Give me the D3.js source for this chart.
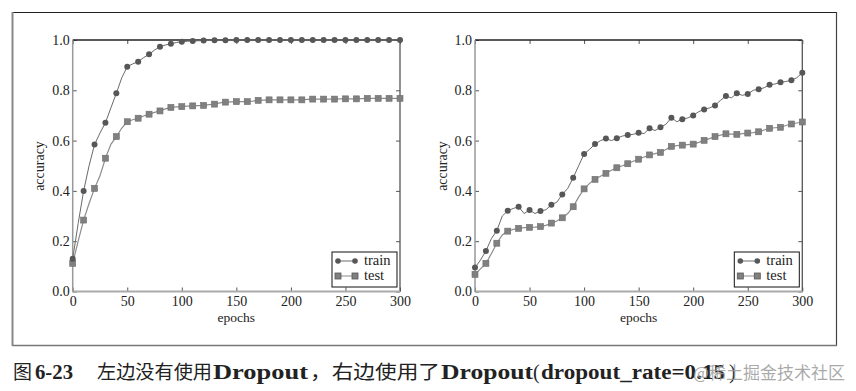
<!DOCTYPE html>
<html>
<head>
<meta charset="utf-8">
<script src="https://cdn.jsdelivr.net/npm/d3@7"></script>
<style>
  body { margin: 0; background: #fff; }
  svg { display: block; }
</style>
</head>
<body>
<svg id="mysvg" width="856" height="391"></svg>
<script>
// epochs, one value every 5 epochs (markers every 10)
let epochs = d3.range(0, 301, 5);

let leftTrain = [0.13, 0.27, 0.40, 0.50, 0.584, 0.63, 0.671, 0.73, 0.788, 0.85,
  0.894, 0.905, 0.914, 0.93, 0.943, 0.96, 0.973, 0.98, 0.985, 0.99,
  0.993, 0.995, 0.996, 0.997, 0.998, 0.999, 0.999, 0.999, 0.999, 0.999,
  1.0, 1.0, 1.0, 1.0, 1.0, 1.0, 1.0, 1.0, 1.0, 1.0,
  1.0, 1.0, 1.0, 1.0, 1.0, 1.0, 1.0, 1.0, 1.0, 1.0,
  1.0, 1.0, 1.0, 1.0, 1.0, 1.0, 1.0, 1.0, 1.0, 1.0, 1.0];
let leftTest = [0.112, 0.20, 0.284, 0.35, 0.41, 0.46, 0.53, 0.585, 0.616, 0.65,
  0.675, 0.683, 0.689, 0.698, 0.705, 0.712, 0.718, 0.726, 0.732, 0.734,
  0.735, 0.737, 0.738, 0.739, 0.740, 0.743, 0.745, 0.75, 0.753, 0.754,
  0.755, 0.755, 0.755, 0.757, 0.760, 0.761, 0.762, 0.762, 0.762, 0.762,
  0.762, 0.762, 0.762, 0.764, 0.765, 0.765, 0.765, 0.765, 0.765, 0.766,
  0.766, 0.766, 0.766, 0.767, 0.768, 0.768, 0.768, 0.768, 0.768, 0.768, 0.768];
let rightTrain = [0.095, 0.125, 0.161, 0.21, 0.242, 0.30, 0.321, 0.33, 0.337, 0.31,
  0.324, 0.31, 0.32, 0.325, 0.345, 0.355, 0.386, 0.41, 0.452, 0.50,
  0.547, 0.565, 0.586, 0.60, 0.608, 0.60, 0.609, 0.618, 0.622, 0.625,
  0.631, 0.628, 0.649, 0.64, 0.653, 0.665, 0.691, 0.675, 0.685, 0.69,
  0.70, 0.715, 0.724, 0.73, 0.74, 0.76, 0.777, 0.77, 0.788, 0.78,
  0.785, 0.80, 0.804, 0.81, 0.822, 0.825, 0.832, 0.835, 0.84, 0.85, 0.87];
let rightTest = [0.068, 0.09, 0.112, 0.15, 0.192, 0.225, 0.24, 0.247, 0.251, 0.254,
  0.255, 0.256, 0.258, 0.263, 0.272, 0.28, 0.293, 0.31, 0.337, 0.375,
  0.408, 0.43, 0.446, 0.458, 0.47, 0.482, 0.492, 0.50, 0.508, 0.518,
  0.526, 0.535, 0.543, 0.548, 0.553, 0.565, 0.577, 0.58, 0.582, 0.584,
  0.586, 0.593, 0.601, 0.608, 0.616, 0.622, 0.627, 0.626, 0.625, 0.628,
  0.63, 0.632, 0.635, 0.642, 0.649, 0.651, 0.653, 0.66, 0.666, 0.67, 0.674];

let xTicks = [0, 50, 100, 150, 200, 250, 300];
let yTicks = [0.0, 0.2, 0.4, 0.6, 0.8, 1.0];
let legendNames = ["train", "test"];

let serif = "'Liberation Serif', 'DejaVu Serif', serif";
let cjk = "'Noto Sans CJK SC', sans-serif";

var svg = d3.select("#mysvg");

// outer frame
svg.append("line").attr("x1", 12).attr("y1", 12.5).attr("x2", 837).attr("y2", 12.5)
  .attr("stroke", "#222").attr("stroke-width", 1.2);
svg.append("line").attr("x1", 836.5).attr("y1", 12).attr("x2", 836.5).attr("y2", 346)
  .attr("stroke", "#444").attr("stroke-width", 1.2);
svg.append("line").attr("x1", 12).attr("y1", 345.5).attr("x2", 837).attr("y2", 345.5)
  .attr("stroke", "#777").attr("stroke-width", 1.5);
svg.append("line").attr("x1", 12.5).attr("y1", 12).attr("x2", 12.5).attr("y2", 346)
  .attr("stroke", "#888").attr("stroke-width", 2);

function makeRows(vals) {
  return epochs.map(function(e, i) { return { e: e, v: vals[i] }; });
}

function drawPanel(x0, x1, trainVals, testVals) {
  var x = d3.scaleLinear().domain([0, 300]).range([x0, x1]);
  var y = d3.scaleLinear().domain([0, 1]).range([291.5, 40]);
  var g = svg.append("g");

  // ticks inward on four sides
  var left = g.append("g").attr("transform", "translate(" + x0 + ",0)")
    .call(d3.axisLeft(y).tickValues(yTicks).tickFormat(d3.format(".1f"))
      .tickSizeInner(-4).tickSizeOuter(0).tickPadding(3));
  var bottom = g.append("g").attr("transform", "translate(0,291.5)")
    .call(d3.axisBottom(x).tickValues(xTicks).tickFormat(d3.format("d"))
      .tickSizeInner(-4).tickSizeOuter(0).tickPadding(5));
  var right = g.append("g").attr("transform", "translate(" + x1 + ",0)")
    .call(d3.axisRight(y).tickValues(yTicks).tickFormat("").tickSizeInner(-4).tickSizeOuter(0));
  var top = g.append("g").attr("transform", "translate(0,40)")
    .call(d3.axisTop(x).tickValues(xTicks).tickFormat("").tickSizeInner(-4).tickSizeOuter(0));
  [left, bottom, right, top].forEach(function(a) {
    a.select(".domain").remove();
    a.selectAll(".tick line").attr("stroke", "#555");
    a.selectAll("text").attr("font-family", serif).attr("font-size", "14px").attr("fill", "#222");
  });

  // spines
  g.append("line").attr("x1", x0).attr("x2", x1).attr("y1", 40).attr("y2", 40)
    .attr("stroke", "#222").attr("stroke-width", 1.3);
  g.append("line").attr("x1", x1).attr("x2", x1).attr("y1", 40).attr("y2", 291.5)
    .attr("stroke", "#555").attr("stroke-width", 1.3);
  g.append("line").attr("x1", x0).attr("x2", x1).attr("y1", 291.5).attr("y2", 291.5)
    .attr("stroke", "#aaa").attr("stroke-width", 2);
  g.append("line").attr("x1", x0).attr("x2", x0).attr("y1", 40).attr("y2", 292)
    .attr("stroke", "#999").attr("stroke-width", 1.5);

  var line = d3.line().x(function(d) { return x(d.e); }).y(function(d) { return y(d.v); });
  var train = makeRows(trainVals), test = makeRows(testVals);

  g.append("path").datum(test).attr("fill", "none").attr("stroke", "#8c8c8c")
    .attr("stroke-width", 1.2).attr("d", line);
  g.append("path").datum(train).attr("fill", "none").attr("stroke", "#6a6a6a")
    .attr("stroke-width", 1).attr("d", line);

  g.selectAll(".sq").data(test.filter(function(d) { return d.e % 10 === 0; }))
    .enter().append("rect")
    .attr("x", function(d) { return x(d.e) - 3; })
    .attr("y", function(d) { return y(d.v) - 3; })
    .attr("width", 6).attr("height", 6)
    .attr("fill", "#808080").attr("stroke", "#6e6e6e").attr("stroke-width", 0.6);
  g.selectAll(".dot").data(train.filter(function(d) { return d.e % 10 === 0; }))
    .enter().append("circle")
    .attr("cx", function(d) { return x(d.e); })
    .attr("cy", function(d) { return y(d.v); })
    .attr("r", 3).attr("fill", "#575757");

  // axis labels
  g.append("text").attr("x", (x0 + x1) / 2).attr("y", 322).attr("text-anchor", "middle")
    .attr("font-family", serif).attr("font-size", "13.5px").attr("fill", "#222").text("epochs");
  g.append("text").attr("transform", "translate(" + (x0 - 28.5) + "," + 166 + ") rotate(-90)")
    .attr("text-anchor", "middle")
    .attr("font-family", serif).attr("font-size", "14px").attr("fill", "#222").text("accuracy");

  // legend
  var lx = x1 - 68, ly = 252;
  var lg = g.append("g").attr("transform", "translate(" + lx + "," + ly + ")");
  lg.append("rect").attr("width", 65).attr("height", 35).attr("fill", "#fff")
    .attr("stroke", "#111").attr("stroke-width", 1);
  legendNames.forEach(function(name, i) {
    var yy = 9 + i * 15;
    lg.append("line").attr("x1", 6).attr("x2", 23).attr("y1", yy).attr("y2", yy)
      .attr("stroke", i === 0 ? "#6a6a6a" : "#8c8c8c").attr("stroke-width", 1);
    [6, 23].forEach(function(px) {
      if (i === 0) {
        lg.append("circle").attr("cx", px).attr("cy", yy).attr("r", 2.8).attr("fill", "#575757");
      } else {
        lg.append("rect").attr("x", px - 3).attr("y", yy - 3).attr("width", 6).attr("height", 6)
          .attr("fill", "#808080").attr("stroke", "#555").attr("stroke-width", 0.8);
      }
    });
    lg.append("text").attr("x", 32).attr("y", yy + 4).attr("font-family", serif)
      .attr("font-size", "14.5px").attr("fill", "#222").text(name);
  });
}

drawPanel(72.7, 400, leftTrain, leftTest);
drawPanel(475, 802.3, rightTrain, rightTest);

// caption
var cap = svg.append("g").attr("fill", "#222");
function capText(x, str, font, size, weight, len) {
  var t = cap.append("text").attr("x", x).attr("y", 379).attr("font-family", font)
    .attr("font-size", size + "px").attr("font-weight", weight).text(str);
  if (len) t.attr("textLength", len).attr("lengthAdjust", "spacingAndGlyphs");
  return t;
}
capText(13, "图", cjk, 19, 400);
capText(35, "6-23", serif, 20, 700, 38);
capText(97, "左边没有使用", cjk, 19, 400, 115);
capText(213, "Dropout", serif, 20, 700, 95);
capText(310, "，右边使用了", cjk, 19, 400, 130);
capText(441, "Dropout", serif, 20, 700, 92);
capText(533, "(", serif, 20, 400);
capText(541, "dropout_rate=0.15", serif, 20, 700, 184);
capText(729, ")", serif, 20, 400);
svg.append("text").attr("x", 693).attr("y", 379).attr("font-family", cjk)
  .attr("font-size", "17px").attr("fill", "#9a9a9a").attr("fill-opacity", 0.85)
  .text("@稀土掘金技术社区");
</script>
</body>
</html>
